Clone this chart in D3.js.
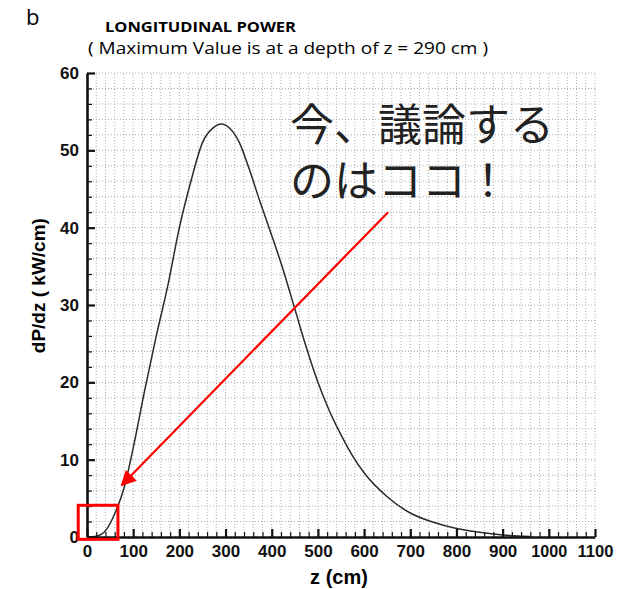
<!DOCTYPE html>
<html>
<head>
<meta charset="utf-8">
<script src="https://cdn.jsdelivr.net/npm/d3@7"></script>
<style>
  body { margin: 0; background: #fff; }
  .grid line { stroke: #acacac; stroke-width: 1; stroke-dasharray: 1,2; }
</style>
</head>
<body>
<div id="chart"></div>
<script>
// z (cm) and dP/dz (kW/cm)
const zValues = [0, 20, 40, 60, 80, 100, 125, 150, 175, 200, 225, 250, 275, 290, 310, 330, 350, 375, 400, 425, 450, 475, 500, 525, 550, 575, 600, 650, 700, 750, 800, 850, 900, 960];
const power = [0, 0.1, 0.8, 3, 6.3, 11.5, 19, 26, 32.5, 40, 46, 51, 53, 53.4, 52.8, 51, 47.8, 43.3, 39, 34.5, 29.5, 24.5, 20, 16.3, 13.2, 10.5, 8.3, 5.2, 3.1, 1.9, 1.1, 0.6, 0.25, 0.05];

const xTicks = [0, 100, 200, 300, 400, 500, 600, 700, 800, 900, 1000, 1100];
const yTicks = [0, 10, 20, 30, 40, 50, 60];

// annotation, in data units
const boxCorners = [[-19, -0.3], [67, 4.1]];
const arrowEnds = [[652, 42], [75, 6.7]];
const noteLines = ["今、議論する", "のはココ！"];

const width = 619, height = 589;
const margin = { left: 87, right: 24, top: 73, bottom: 52 };

const svg = d3.select('#chart').append('svg')
  .attr('width', width)
  .attr('height', height);

const x = d3.scaleLinear().domain([0, 1100]).range([margin.left, width - margin.right]);
const y = d3.scaleLinear().domain([0, 60]).range([height - margin.bottom, margin.top]);

// dotted grid on the minor ticks
const grid = svg.append('g').attr('class', 'grid');
grid.selectAll('.gx')
  .data(d3.range(20, 1100.1, 20))
  .enter().append('line')
  .attr('x1', d => x(d)).attr('x2', d => x(d))
  .attr('y1', y(0)).attr('y2', y(60));
grid.selectAll('.gy')
  .data(d3.range(2, 60.1, 2))
  .enter().append('line')
  .attr('x1', x(0)).attr('x2', x(1100))
  .attr('y1', d => y(d)).attr('y2', d => y(d));

// curve
const line = d3.line()
  .x((d, i) => x(zValues[i]))
  .y(d => y(d))
  .curve(d3.curveMonotoneX);

svg.append('path')
  .datum(power)
  .attr('d', line)
  .attr('fill', 'none')
  .attr('stroke', '#2a2a2a')
  .attr('stroke-width', 1.5);

// axes, ticks point inward
const xAxis = d3.axisBottom(x).tickValues(xTicks).tickFormat(d3.format('d')).tickSize(-8).tickSizeOuter(0).tickPadding(8);
const xMinor = d3.axisBottom(x).tickValues(d3.range(0, 1100.1, 20).filter(d => d % 100)).tickSize(-5).tickFormat('');
const yAxis = d3.axisLeft(y).tickValues(yTicks).tickSize(-8).tickSizeOuter(0).tickPadding(8);
const yMinor = d3.axisLeft(y).tickValues(d3.range(0, 60.1, 2).filter(d => d % 10)).tickSize(-5).tickFormat('');

const gx = svg.append('g').attr('transform', `translate(0,${y(0)})`).call(xAxis);
svg.append('g').attr('transform', `translate(0,${y(0)})`).call(xMinor).select('.domain').remove();
const gy = svg.append('g').attr('transform', `translate(${x(0)},0)`).call(yAxis);
svg.append('g').attr('transform', `translate(${x(0)},0)`).call(yMinor).select('.domain').remove();

svg.selectAll('.tick line').attr('stroke', '#111').attr('stroke-width', 1.2);
gx.selectAll('.tick line').attr('stroke-width', 2.2);
gy.selectAll('.tick line').attr('stroke-width', 2.2);
gx.select('.domain').attr('stroke', '#111').attr('stroke-width', 2.6);
gy.select('.domain').attr('stroke', '#111').attr('stroke-width', 2.6);
svg.selectAll('.tick text')
  .style('font-family', '"Liberation Sans", Arial, sans-serif')
  .style('font-weight', 'bold')
  .style('font-size', '17px')
  .attr('fill', '#111');
gx.selectAll('.tick text')
  .attr('textLength', d => d >= 1000 ? 36 : null)
  .attr('lengthAdjust', 'spacingAndGlyphs');

// axis titles
svg.append('text')
  .attr('x', x(550) - 2).attr('y', 584)
  .attr('text-anchor', 'middle')
  .style('font-family', '"Liberation Sans", Arial, sans-serif')
  .style('font-weight', 'bold').style('font-size', '20px')
  .text('z (cm)');

svg.append('text')
  .attr('transform', `translate(45,${y(32.5)}) rotate(-90)`)
  .attr('text-anchor', 'middle')
  .style('font-family', '"Liberation Sans", Arial, sans-serif')
  .style('font-weight', 'bold').style('font-size', '19px')
  .text('dP/dz ( kW/cm)');

// titles
svg.append('text')
  .attr('x', 26).attr('y', 25)
  .style('font-family', '"Open Sans", sans-serif')
  .style('font-size', '22px')
  .text('b');

svg.append('text')
  .attr('x', 105).attr('y', 32)
  .attr('textLength', 191).attr('lengthAdjust', 'spacingAndGlyphs')
  .style('font-family', '"Open Sans", sans-serif')
  .style('font-weight', 'bold').style('font-size', '15px')
  .text('LONGITUDINAL POWER');

svg.append('text')
  .attr('x', 88).attr('y', 54)
  .attr('textLength', 400).attr('lengthAdjust', 'spacingAndGlyphs')
  .style('font-family', '"Open Sans", sans-serif')
  .style('font-size', '16px')
  .text('( Maximum Value is at a depth of z = 290 cm )');

// red annotation
svg.append('rect')
  .attr('x', x(boxCorners[0][0])).attr('y', y(boxCorners[1][1]))
  .attr('width', x(boxCorners[1][0]) - x(boxCorners[0][0]))
  .attr('height', y(boxCorners[0][1]) - y(boxCorners[1][1]))
  .attr('fill', 'none').attr('stroke', '#f00').attr('stroke-width', 3);

svg.append('defs').append('marker')
  .attr('id', 'head')
  .attr('viewBox', '0 0 10 10')
  .attr('refX', 9).attr('refY', 5)
  .attr('markerWidth', 8).attr('markerHeight', 7)
  .attr('markerUnits', 'strokeWidth')
  .attr('orient', 'auto')
  .append('path').attr('d', 'M0,0 L10,5 L0,10 z').attr('fill', '#f00');

svg.append('line')
  .attr('x1', x(arrowEnds[0][0])).attr('y1', y(arrowEnds[0][1]))
  .attr('x2', x(arrowEnds[1][0])).attr('y2', y(arrowEnds[1][1]))
  .attr('stroke', '#f00').attr('stroke-width', 2.2)
  .attr('marker-end', 'url(#head)');

svg.append('g').selectAll('text')
  .data(noteLines)
  .enter().append('text')
  .attr('x', 290)
  .attr('y', (d, i) => 141 + i * 56)
  .style('font-family', '"Noto Sans CJK JP", sans-serif')
  .style('font-size', '44px')
  .attr('fill', '#222')
  .text(d => d);
</script>
</body>
</html>
